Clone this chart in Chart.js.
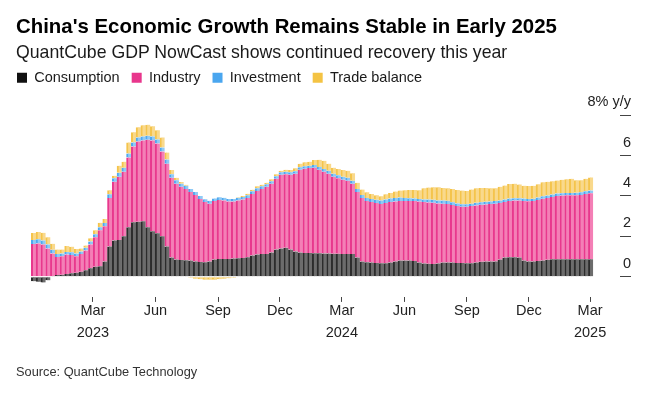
<!DOCTYPE html>
<html><head><meta charset="utf-8">
<script src="https://cdn.jsdelivr.net/npm/chart.js@4.4.1/dist/chart.umd.min.js"></script>
<style>
html,body{margin:0;padding:0;background:#fff;}
#wrap{position:relative;width:650px;height:396px;overflow:hidden;font-family:"Liberation Sans",Arial,sans-serif;}
#title{position:absolute;left:16px;top:12px;font-weight:bold;font-size:20.4px;color:#000;white-space:nowrap;line-height:28px}
#sub{position:absolute;left:16px;top:40px;font-size:17.7px;color:#1a1a1a;white-space:nowrap;line-height:24px}
#src{position:absolute;left:16px;top:363px;font-size:12.8px;color:#333;line-height:18px;white-space:nowrap}
canvas{position:absolute;left:0;top:0}
</style></head><body>
<div id="wrap">
<canvas id="c" width="650" height="396" style="width:650px;height:396px"></canvas>
<div id="title">China's Economic Growth Remains Stable in Early 2025</div>
<div id="sub">QuantCube GDP NowCast shows continued recovery this year</div>
<div id="src">Source: QuantCube Technology</div>
</div>
<script>
// first weekly observation; one value per week afterwards
const startDate = '2022-12-04';
const seriesNames = ['Consumption', 'Industry', 'Investment', 'Trade balance'];
const consumption = [
 -0.22,-0.25,-0.28,-0.18,0.03,0.08,0.1,0.13,0.17,0.2,
 0.25,0.32,0.42,0.5,0.52,0.75,1.5,1.8,1.82,2.0,
 2.45,2.7,2.72,2.75,2.45,2.25,2.15,2.0,1.5,0.95,
 0.85,0.83,0.82,0.8,0.76,0.73,0.72,0.75,0.85,0.88,
 0.88,0.88,0.9,0.92,0.93,0.97,1.05,1.1,1.12,1.13,
 1.2,1.35,1.4,1.43,1.35,1.25,1.2,1.17,1.17,1.16,
 1.16,1.15,1.15,1.14,1.14,1.13,1.13,1.12,0.95,0.75,
 0.72,0.7,0.68,0.67,0.67,0.7,0.75,0.8,0.8,0.8,
 0.78,0.7,0.66,0.64,0.63,0.66,0.7,0.7,0.7,0.68,
 0.68,0.67,0.67,0.7,0.74,0.75,0.75,0.76,0.85,0.95,
 0.97,0.97,0.95,0.8,0.76,0.76,0.78,0.8,0.84,0.86,
 0.87,0.87,0.87,0.87,0.87,0.87,0.87,0.87
];
const industry = [
 1.62,1.65,1.6,1.4,1.12,0.9,0.92,0.97,0.91,0.82,
 0.87,0.98,1.18,1.45,1.78,1.75,2.4,2.9,3.13,3.2,
 3.45,3.75,3.98,4.0,4.33,4.5,4.45,4.2,4.1,3.95,
 3.75,3.62,3.53,3.4,3.29,3.12,2.98,2.87,2.9,2.92,
 2.9,2.84,2.82,2.86,2.89,2.93,3.05,3.15,3.23,3.32,
 3.4,3.5,3.65,3.65,3.7,3.85,4.1,4.18,4.21,4.24,
 4.14,4.05,3.95,3.81,3.74,3.67,3.62,3.48,3.25,3.15,
 3.03,3.0,2.97,2.93,2.98,3.0,2.97,2.95,2.95,2.95,
 2.97,3.02,3.04,3.04,3.03,2.97,2.92,2.9,2.85,2.82,
 2.79,2.8,2.83,2.83,2.82,2.83,2.85,2.86,2.8,2.75,
 2.78,2.8,2.82,2.95,2.98,2.99,3.02,3.06,3.06,3.09,
 3.13,3.15,3.16,3.16,3.16,3.18,3.23,3.26
];
const investment = [
 0.2,0.2,0.2,0.2,0.18,0.15,0.13,0.12,0.13,0.13,
 0.13,0.13,0.15,0.15,0.15,0.16,0.18,0.18,0.2,0.2,
 0.2,0.2,0.2,0.2,0.2,0.2,0.2,0.2,0.2,0.18,
 0.18,0.16,0.15,0.15,0.15,0.15,0.14,0.14,0.13,0.13,
 0.13,0.13,0.13,0.13,0.13,0.13,0.13,0.13,0.13,0.13,
 0.13,0.12,0.12,0.12,0.12,0.12,0.12,0.12,0.12,0.13,
 0.14,0.14,0.15,0.15,0.15,0.15,0.15,0.15,0.15,0.15,
 0.15,0.15,0.16,0.18,0.18,0.18,0.18,0.17,0.15,0.14,
 0.13,0.13,0.13,0.14,0.15,0.15,0.16,0.16,0.14,0.13,
 0.12,0.12,0.12,0.13,0.13,0.13,0.13,0.13,0.12,0.12,
 0.12,0.12,0.12,0.12,0.11,0.11,0.12,0.12,0.12,0.12,
 0.12,0.12,0.12,0.12,0.13,0.13,0.13,0.14
];
const tradeBalance = [
 0.35,0.37,0.38,0.35,0.3,0.22,0.2,0.3,0.28,0.22,
 0.15,0.12,0.15,0.2,0.22,0.2,0.2,0.12,0.35,0.3,
 0.55,0.5,0.5,0.55,0.55,0.5,0.45,0.5,0.35,0.2,
 0.12,0.08,0.05,-0.05,-0.1,-0.12,-0.15,-0.15,-0.15,-0.12,
 -0.1,-0.08,-0.05,0.03,0.05,0.08,0.08,0.1,0.08,0.08,
 0.1,0.1,0.08,0.1,0.12,0.15,0.18,0.2,0.2,0.25,
 0.35,0.4,0.35,0.3,0.3,0.33,0.35,0.38,0.3,0.27,
 0.28,0.25,0.22,0.2,0.25,0.27,0.32,0.35,0.38,0.4,
 0.42,0.43,0.55,0.6,0.62,0.65,0.62,0.62,0.65,0.67,
 0.68,0.65,0.7,0.72,0.7,0.68,0.65,0.63,0.68,0.7,
 0.72,0.72,0.68,0.64,0.64,0.64,0.66,0.7,0.68,0.66,
 0.64,0.66,0.68,0.7,0.62,0.6,0.62,0.65
];
const tickDates = ['2023-03-01','2023-06-01','2023-09-01','2023-12-01','2024-03-01','2024-06-01','2024-09-01','2024-12-01','2025-03-01'];
const tickLabels = [['Mar','2023'],'Jun','Sep','Dec',['Mar','2024'],'Jun','Sep','Dec',['Mar','2025']];
const yTicks = [0, 2, 4, 6, 8];

const legendColors = ['#111111', '#e8368c', '#4aa6ef', '#f4c343'];
const fillColors = ['#6c6c6c', '#f47fb6', '#8fcaf6', '#f9d98c'];
const edgeColors = ['#2c2c2c', '#e8388d', '#4ea8ef', '#f4c44c'];

function dayNum(s) {
  const [y, m, d] = s.split('-').map(Number);
  return (Date.UTC(y, m - 1, d) - Date.UTC(2023, 0, 1)) / 86400000;
}
const start = dayNum(startDate);
const weekDays = consumption.map((_, i) => start + 7 * i);
const tickDays = tickDates.map(dayNum);
const seriesValues = [consumption, industry, investment, tradeBalance];

const font = {family: '"Liberation Sans", Arial, sans-serif', size: 14.5};

new Chart(document.getElementById('c'), {
  type: 'bar',
  data: {
    labels: weekDays,
    datasets: seriesNames.map((name, k) => ({
      label: name,
      data: seriesValues[k],
      backgroundColor: fillColors[k],
      borderColor: edgeColors[k],
      borderWidth: {left: 2, right: 0, top: 0, bottom: 0},
      borderSkipped: false,
      barPercentage: 1,
      categoryPercentage: 1,
      stack: 's'
    }))
  },
  options: {
    responsive: false,
    animation: false,
    devicePixelRatio: 1,
    layout: {padding: {left: 5, right: 19, top: 58.5, bottom: 54}},
    plugins: {
      legend: {
        position: 'top', align: 'start',
        labels: {
          boxWidth: 10, boxHeight: 10, padding: 12, color: '#1a1a1a', font: font,
          generateLabels: () => seriesNames.map((n, i) => ({
            text: n, fillStyle: legendColors[i], strokeStyle: legendColors[i],
            lineWidth: 0, datasetIndex: i, hidden: false, fontColor: '#1a1a1a'
          }))
        }
      },
      tooltip: {enabled: false}
    },
    scales: {
      x: {
        type: 'linear', stacked: true, offset: false, min: -70.2, max: 834,
        afterBuildTicks: s => { s.ticks = tickDays.map(v => ({value: v})); },
        ticks: {autoSkip: false, maxRotation: 0, padding: -2, color: '#222', font: Object.assign({lineHeight: 1.52}, font),
          callback: (v, i) => tickLabels[i]},
        grid: {offset: false, drawOnChartArea: false, drawTicks: true, tickLength: 5, tickColor: '#444', tickWidth: 1},
        border: {display: false}
      },
      y: {
        position: 'right', stacked: true, min: -1, max: 9,
        afterBuildTicks: s => { s.ticks = yTicks.map(v => ({value: v})); },
        afterFit: s => { s.width = 11; },
        ticks: {mirror: true, padding: 11, labelOffset: -13, color: '#222', font: font,
          callback: v => (v === 8 ? '8% y/y' : String(v))},
        grid: {drawOnChartArea: false, drawTicks: true, tickLength: 11, tickColor: '#444', tickWidth: 1},
        border: {display: false}
      }
    }
  }
});
</script>
</body></html>
